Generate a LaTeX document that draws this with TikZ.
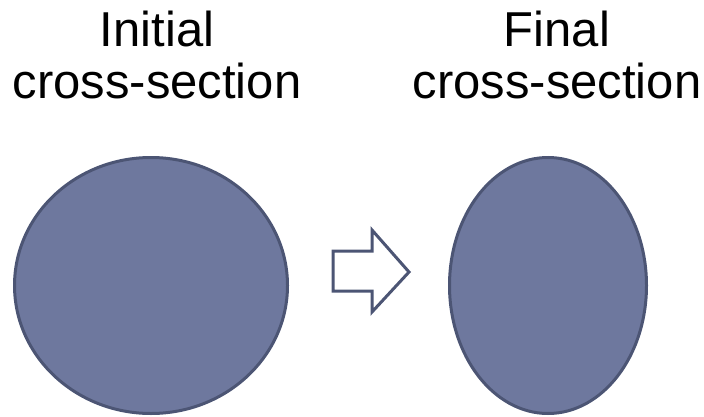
\documentclass[tikz,border=0pt]{standalone}
\usepackage{fontspec}
\setmainfont{Liberation Sans}
\usetikzlibrary{shapes.geometric}
\definecolor{shapefill}{RGB}{110,120,158}
\definecolor{shapeline}{RGB}{76,85,116}
\begin{document}
\begin{tikzpicture}[x=1pt,y=1pt,
  lbl/.style={anchor=base,inner sep=0pt,font=\fontsize{49}{52}\selectfont},
  section/.style={ellipse,draw=shapeline,fill=shapefill,line width=3pt,inner sep=0pt}]
\useasboundingbox (0,0) rectangle (704,416);
\node[lbl] (initA) at (157,369) {Initial};
\node[lbl] (initB) at (157,317) {cross-section};
\node[lbl] (finA) at (557,369) {Final};
\node[lbl] (finB) at (557,317) {cross-section};
\node[section,minimum width=273pt,minimum height=256pt] (init) at (151,130.5) {};
\node[section,minimum width=197pt,minimum height=256pt] (fin) at (548,130.5) {};
\draw[shapeline,fill=white,line width=3pt,line join=miter]
  (333,165) -- (372,165) -- (372,186) -- (409,144) -- (372,104) -- (372,125) -- (333,125) -- cycle;
\end{tikzpicture}
\end{document}
